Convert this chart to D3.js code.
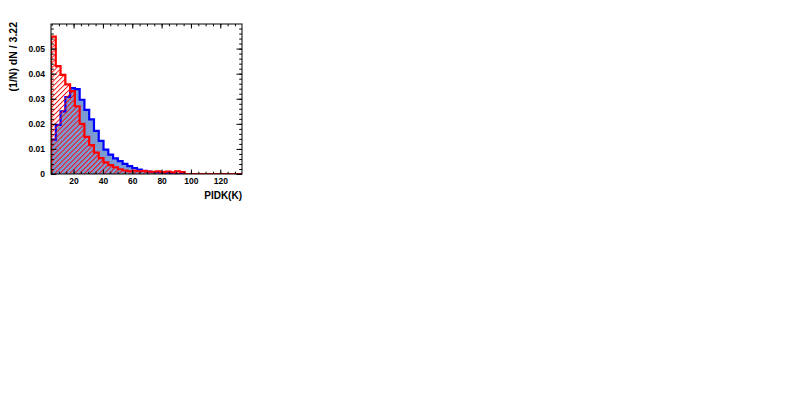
<!DOCTYPE html>
<html>
<head>
<meta charset="utf-8">
<script src="https://cdn.jsdelivr.net/npm/d3@7"></script>
<style>
  html, body { margin: 0; padding: 0; background: #fff; }
  svg { display: block; }
  text { font-family: "Liberation Sans", Arial, Helvetica, sans-serif; font-weight: bold; }
</style>
</head>
<body>
<svg id="chart" width="796" height="414"></svg>
<script>
// ---- data ----
const xMin = 4.6;
const xMax = 134.8;
const yMax = 0.0598;
const xTicks = [20, 40, 60, 80, 100, 120];
const yTicks = [0, 0.01, 0.02, 0.03, 0.04, 0.05];
const yTickLabels = ["0", "0.01", "0.02", "0.03", "0.04", "0.05"];
const xTitle = "PIDK(K)";
const yTitle = "(1/N) dN / 3.22";
// blue (filled) histogram
const blueValues = [0.0137, 0.0196, 0.0250, 0.0307, 0.0342, 0.0338, 0.0296, 0.0256, 0.0218, 0.0172,
                    0.0132, 0.0097, 0.0077, 0.0062, 0.0051, 0.0040, 0.0031, 0.0024, 0.0018, 0.0013,
                    0.0010, 0.0008, 0.0007, 0.0006, 0.0005, 0.0004, 0, 0, 0, 0,
                    0, 0, 0, 0, 0, 0, 0, 0, 0, 0];
// red (hatched) histogram
const redValues = [0.0548, 0.0430, 0.0395, 0.0357, 0.0330, 0.0270, 0.0200, 0.0148, 0.0115, 0.0085,
                   0.0063, 0.0046, 0.0035, 0.0027, 0.0019, 0.0014, 0.0011, 0.0013, 0.0011, 0.0012,
                   0.0010, 0.0009, 0.0011, 0.0008, 0.0010, 0.0007, 0.0011, 0.0008, 0, 0,
                   0, 0, 0, 0, 0, 0, 0, 0, 0, 0];

// ---- layout ----
const L = 51, R = 242, T = 24, B = 174;
const svg = d3.select("#chart");
const x = d3.scaleLinear().domain([xMin, xMax]).range([L, R]);
const y = d3.scaleLinear().domain([0, yMax]).range([B, T]);
const nBins = blueValues.length;
const bw = (xMax - xMin) / nBins;

const defs = svg.append("defs");
defs.append("clipPath").attr("id", "clip")
  .append("rect").attr("x", L).attr("y", T).attr("width", R - L).attr("height", B - T);
const pat = defs.append("pattern").attr("id", "hatch")
  .attr("patternUnits", "userSpaceOnUse")
  .attr("width", 3.5).attr("height", 10)
  .attr("patternTransform", "rotate(45)");
pat.append("line").attr("x1", 0.5).attr("y1", 0).attr("x2", 0.5).attr("y2", 10)
  .attr("stroke", "#ff0000").attr("stroke-width", 0.9);

function stepPath(vals) {
  let p = d3.path();
  p.moveTo(x(xMin), y(0));
  vals.forEach((v, i) => {
    p.lineTo(x(xMin + i * bw), y(v));
    p.lineTo(x(xMin + (i + 1) * bw), y(v));
  });
  p.lineTo(x(xMin + nBins * bw), y(0));
  return p.toString();
}

const g = svg.append("g").attr("clip-path", "url(#clip)");
g.append("path").attr("d", stepPath(blueValues) + "Z").attr("fill", "#7b9bd3").attr("stroke", "none");
g.append("path").attr("d", stepPath(blueValues)).attr("fill", "none").attr("stroke", "#0000ff").attr("stroke-width", 2.2);
g.append("path").attr("d", stepPath(redValues) + "Z").attr("fill", "url(#hatch)").attr("stroke", "none");
g.append("path").attr("d", stepPath(redValues)).attr("fill", "none").attr("stroke", "#ff0000").attr("stroke-width", 2.2);

// ---- axes (ROOT style, ticks inside on all sides) ----
const yMinor = d3.range(0, yMax, 0.002);
const xMinor = d3.range(5, xMax, 5);

const axL = d3.axisLeft(y).tickValues(yTicks).tickSize(-5.5).tickFormat((d, i) => yTickLabels[i]).tickPadding(6);
const axLm = d3.axisLeft(y).tickValues(yMinor).tickSize(-2.8).tickFormat("");
const axR = d3.axisRight(y).tickValues(yTicks).tickSize(-5.5).tickFormat("");
const axRm = d3.axisRight(y).tickValues(yMinor).tickSize(-2.8).tickFormat("");
const axB = d3.axisBottom(x).tickValues(xTicks).tickSize(-4.5).tickFormat(d3.format("d")).tickPadding(4);
const axBm = d3.axisBottom(x).tickValues(xMinor).tickSize(-2.3).tickFormat("");
const axT = d3.axisTop(x).tickValues(xTicks).tickSize(-4.5).tickFormat("");
const axTm = d3.axisTop(x).tickValues(xMinor).tickSize(-2.3).tickFormat("");

function styleAxis(sel) {
  sel.select(".domain").remove();
  sel.selectAll("line").attr("stroke", "#000").attr("stroke-width", 1);
  sel.selectAll("text").attr("font-size", 8.5).attr("fill", "#000")
    .attr("font-family", "'Liberation Sans', Arial, sans-serif").attr("font-weight", "bold");
}
svg.append("g").attr("transform", `translate(${L},0)`).call(axL).call(styleAxis);
svg.append("g").attr("transform", `translate(${L},0)`).call(axLm).call(styleAxis);
svg.append("g").attr("transform", `translate(${R},0)`).call(axR).call(styleAxis);
svg.append("g").attr("transform", `translate(${R},0)`).call(axRm).call(styleAxis);
svg.append("g").attr("transform", `translate(0,${B})`).call(axB).call(styleAxis);
svg.append("g").attr("transform", `translate(0,${B})`).call(axBm).call(styleAxis);
svg.append("g").attr("transform", `translate(0,${T})`).call(axT).call(styleAxis);
svg.append("g").attr("transform", `translate(0,${T})`).call(axTm).call(styleAxis);

// frame
svg.append("rect").attr("x", L).attr("y", T).attr("width", R - L).attr("height", B - T)
  .attr("fill", "none").attr("stroke", "#000").attr("stroke-width", 1);

// titles
svg.append("text").attr("x", R).attr("y", 198.5).attr("text-anchor", "end")
  .attr("font-size", 10).text(xTitle);
svg.append("text").attr("transform", `translate(17,${T - 2}) rotate(-90)`).attr("text-anchor", "end")
  .attr("font-size", 10.5).text(yTitle);
</script>
</body>
</html>
